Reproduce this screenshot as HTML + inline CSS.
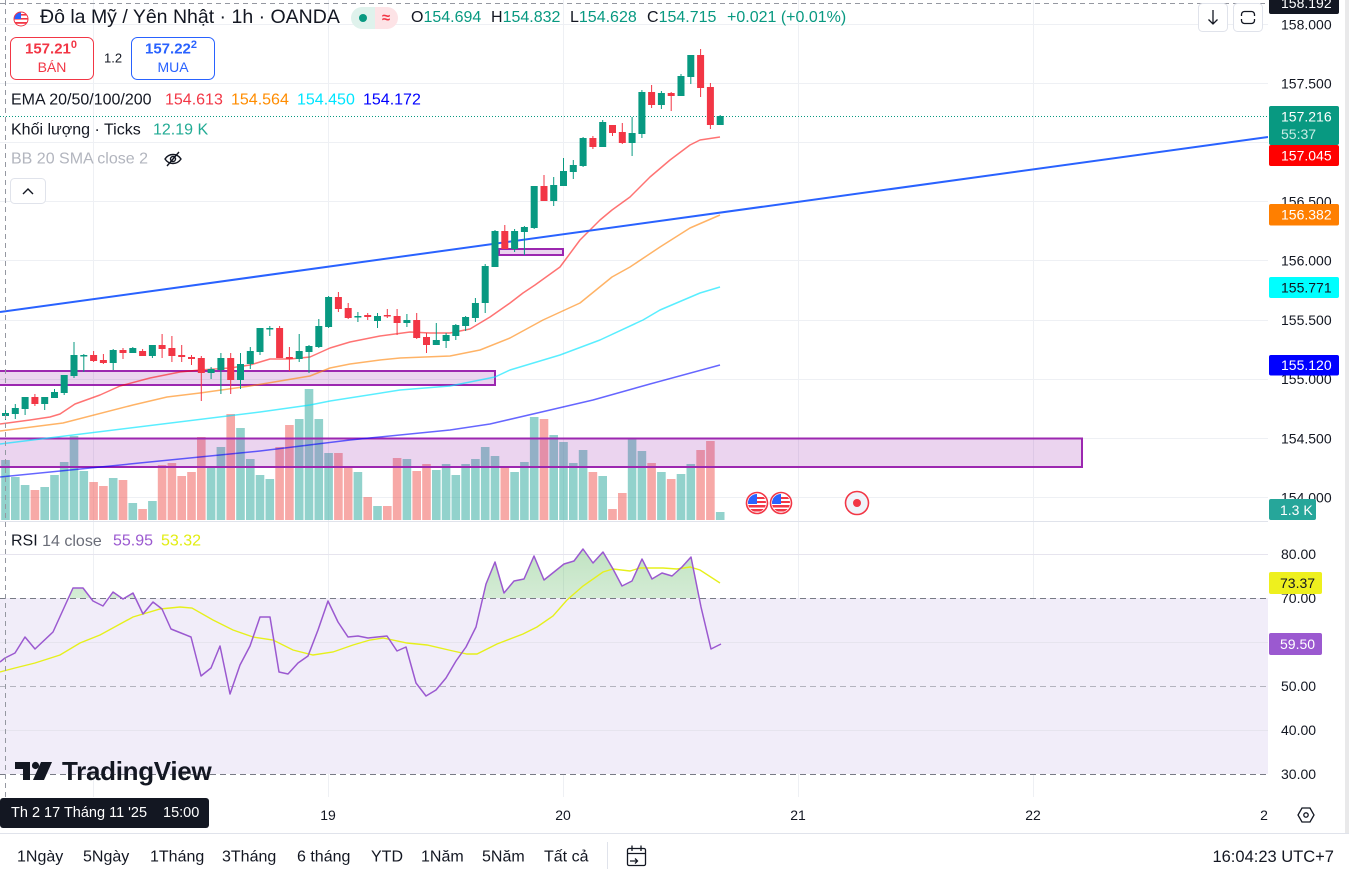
<!DOCTYPE html>
<html><head><meta charset="utf-8"><style>
html,body{margin:0;padding:0;background:#fff;}
svg{display:block;}
text{font-family:"Liberation Sans","DejaVu Sans",sans-serif;}
</style></head><body>
<svg width="1349" height="869" viewBox="0 0 1349 869" xmlns="http://www.w3.org/2000/svg">
<defs>
<linearGradient id="gf" x1="0" y1="0" x2="0" y2="1"><stop offset="0" stop-color="#4caf50" stop-opacity="0.35"/><stop offset="1" stop-color="#4caf50" stop-opacity="0.02"/></linearGradient>
<clipPath id="above70"><rect x="0" y="530" width="1268" height="68"/></clipPath>
<clipPath id="f1"><circle cx="757" cy="503" r="9"/></clipPath>
<clipPath id="f2"><circle cx="781" cy="503" r="9"/></clipPath>
<clipPath id="f0"><circle cx="21" cy="19" r="7"/></clipPath>
</defs>
<rect width="1349" height="869" fill="#fff"/>
<rect x="1345" y="0" width="4" height="833" fill="#e9e9ea"/>

<g stroke="#eef0f4" stroke-width="1">
<path d="M93.5 0V797M328.5 0V797M563.5 0V797M798.5 0V797M1033.5 0V797"/>
<path d="M0 24.5H1268M0 83.5H1268M0 142.5H1268M0 201.5H1268M0 260.5H1268M0 320.5H1268M0 379.5H1268M0 438.5H1268M0 497.5H1268"/>
</g>

<path fill="rgba(38,166,154,0.5)" d="M1.2 460h8.6V520h-8.6zM11 477h8.6V520h-8.6zM20.8 485h8.6V520h-8.6zM40.4 487h8.6V520h-8.6zM50.2 475h8.6V520h-8.6zM59.9 462h8.6V520h-8.6zM69.7 436h8.6V520h-8.6zM79.5 471h8.6V520h-8.6zM108.9 478h8.6V520h-8.6zM128.5 503h8.6V520h-8.6zM148.1 501h8.6V520h-8.6zM206.8 468h8.6V520h-8.6zM216.6 447h8.6V520h-8.6zM236.2 428h8.6V520h-8.6zM246 459h8.6V520h-8.6zM255.7 475h8.6V520h-8.6zM265.5 479h8.6V520h-8.6zM294.9 419h8.6V520h-8.6zM304.7 389h8.6V520h-8.6zM314.5 419h8.6V520h-8.6zM324.3 453h8.6V520h-8.6zM353.6 472h8.6V520h-8.6zM373.2 506h8.6V520h-8.6zM402.6 459h8.6V520h-8.6zM432 470h8.6V520h-8.6zM441.8 464h8.6V520h-8.6zM451.5 475h8.6V520h-8.6zM461.3 464h8.6V520h-8.6zM471.1 459h8.6V520h-8.6zM480.9 447h8.6V520h-8.6zM490.7 456h8.6V520h-8.6zM510.3 472h8.6V520h-8.6zM520.1 462h8.6V520h-8.6zM529.9 417h8.6V520h-8.6zM549.4 435h8.6V520h-8.6zM559.2 442h8.6V520h-8.6zM569 463h8.6V520h-8.6zM578.8 450h8.6V520h-8.6zM598.4 476h8.6V520h-8.6zM627.8 439h8.6V520h-8.6zM637.6 451h8.6V520h-8.6zM657.1 472h8.6V520h-8.6zM676.7 474h8.6V520h-8.6zM686.5 464h8.6V520h-8.6zM715.9 512h8.6V520h-8.6z"/>
<path fill="rgba(239,83,80,0.5)" d="M30.6 490h8.6V520h-8.6zM89.3 482h8.6V520h-8.6zM99.1 486h8.6V520h-8.6zM118.7 480h8.6V520h-8.6zM138.3 509h8.6V520h-8.6zM157.8 465h8.6V520h-8.6zM167.6 463h8.6V520h-8.6zM177.4 476h8.6V520h-8.6zM187.2 472h8.6V520h-8.6zM197 437h8.6V520h-8.6zM226.4 414h8.6V520h-8.6zM275.3 447h8.6V520h-8.6zM285.1 425h8.6V520h-8.6zM334.1 453h8.6V520h-8.6zM343.9 467h8.6V520h-8.6zM363.4 497h8.6V520h-8.6zM383 506h8.6V520h-8.6zM392.8 458h8.6V520h-8.6zM412.4 471h8.6V520h-8.6zM422.2 464h8.6V520h-8.6zM500.5 468h8.6V520h-8.6zM539.7 419h8.6V520h-8.6zM588.6 472h8.6V520h-8.6zM608.2 509h8.6V520h-8.6zM618 493h8.6V520h-8.6zM647.3 463h8.6V520h-8.6zM666.9 479h8.6V520h-8.6zM696.3 450h8.6V520h-8.6zM706.1 441h8.6V520h-8.6z"/>

<g fill="rgba(156,39,176,0.2)" stroke="#9c27b0" stroke-width="2">
<rect x="-3" y="371" width="498" height="14"/>
<rect x="-3" y="438.5" width="1085" height="28.5"/>
<rect x="499" y="249" width="64" height="6"/>
</g>

<g fill="none" stroke-width="1.5" stroke-linejoin="round">
<polyline stroke="#0000ff" stroke-opacity="0.6" points="0,477 260,451 350,440 450,430 490,424 593,400 650,384 720,365"/>
<polyline stroke="#00e5ff" stroke-opacity="0.65" points="0,444 260,412 310,405 330,401 400,390 450,386 495,377 510,370 560,355 600,340 643,320 660,310 700,293 720,287"/>
<polyline stroke="#ff8000" stroke-opacity="0.6" points="0,431 63,423 133,405 167,397 200,393 250,386 280,381 310,376 330,368 350,364 380,360 400,358 450,356 480,350 510,338 543,320 580,303 612,277 630,267 660,247 690,228 720,215"/>
<polyline stroke="#ff0000" stroke-opacity="0.55" points="0,424 30,420 50,417 60,414 75,404 100,395 120,386 150,378 180,372 200,370 230,368 250,365 270,359 290,359 310,357 330,348 350,342 380,336 410,332 430,333 450,333 470,329 490,317 510,303 523,293 535,285 560,267 580,240 600,220 612,210 630,197 650,177 670,160 690,145 700,140 720,137"/>
</g>

<line x1="0" y1="312" x2="1268" y2="137" stroke="#2962ff" stroke-width="2"/>
<line x1="0" y1="116.5" x2="1268" y2="116.5" stroke="#089981" stroke-width="1" stroke-dasharray="1,2"/>

<path stroke="#089981" stroke-width="1" fill="none" d="M5.5 408V420M15.3 404V419M25.1 397V415M44.7 397V410M54.5 389V398M64.2 375V395M74 342V378M83.8 354V372M113.2 349V370M132.8 347V353M152.4 345V358M211.1 367V379M220.9 353V394M240.5 353V389M250.3 347V369M260 328V355M269.8 326V336M299.2 334V362M309 345V373M318.8 319V348M328.6 296V328M357.9 312V322M377.5 313V328M406.9 314V327M436.3 323V345M446.1 333V348M455.8 324V340M465.6 316V331M475.4 298V322M485.2 264V313M495 230V267M514.6 229V252M524.4 226V255M534.2 186V229M553.7 177V206M563.5 158V186M573.3 160V179M583.1 137V167M602.7 120V147M632.1 117V156M641.9 90V138M661.4 91V109M681 74V96M690.8 55V84M720.2 115V125"/>
<path stroke="#f23645" stroke-width="1" fill="none" d="M34.9 394V406M93.6 351V362M103.4 354V364M123 348V359M142.6 349V356M162.1 334V358M171.9 336V362M181.7 345V362M191.5 355V365M201.3 356V401M230.7 353V394M279.6 326V358M289.4 347V371M338.4 292V312M348.2 303V319M367.7 313V320M387.3 309V318M397.1 309V335M416.7 313V339M426.5 333V353M504.8 225V249M544 175V201M592.9 136V149M612.5 125V136M622.3 123V144M651.6 85V108M671.2 92V111M700.6 49V97M710.4 83V129"/>
<path fill="#089981" d="M2 413h7v3h-7zM11.8 408h7v6h-7zM21.6 397h7v12h-7zM41.2 397h7v7h-7zM51 392h7v6h-7zM60.7 375h7v18h-7zM70.5 355h7v21h-7zM80.3 355h7v1.5h-7zM109.7 350h7v13h-7zM129.3 348h7v5h-7zM148.9 345h7v11h-7zM207.6 369h7v4h-7zM217.4 358h7v12h-7zM237 364h7v16h-7zM246.8 351h7v13h-7zM256.5 328h7v24h-7zM266.3 328h7v1.5h-7zM295.7 351h7v8h-7zM305.5 346h7v6h-7zM315.3 326h7v21h-7zM325.1 297h7v30h-7zM354.4 316h7v1.5h-7zM374 316h7v5h-7zM403.4 320h7v3h-7zM432.8 340h7v5h-7zM442.6 335h7v6h-7zM452.3 325h7v11h-7zM462.1 317h7v9h-7zM471.9 303h7v15h-7zM481.7 266h7v37h-7zM491.5 231h7v36h-7zM511.1 231h7v18h-7zM520.9 227h7v5h-7zM530.7 186h7v42h-7zM550.2 185h7v16h-7zM560 171h7v15h-7zM569.8 165h7v7h-7zM579.6 138h7v28h-7zM599.2 122h7v25h-7zM628.6 133h7v10h-7zM638.4 92h7v42h-7zM657.9 93h7v12h-7zM677.5 76h7v20h-7zM687.3 55h7v22h-7zM716.7 116h7v9h-7z"/>
<path fill="#f23645" d="M31.4 397h7v7h-7zM90.1 355h7v6h-7zM99.9 360h7v3h-7zM119.5 350h7v3h-7zM139.1 351h7v5h-7zM158.6 345h7v4h-7zM168.4 348h7v8h-7zM178.2 355h7v2h-7zM188 357h7v2h-7zM197.8 358h7v15h-7zM227.2 358h7v22h-7zM276.1 328h7v30h-7zM285.9 357h7v2h-7zM334.9 297h7v12h-7zM344.7 308h7v10h-7zM364.2 315h7v2h-7zM383.8 315h7v1.5h-7zM393.6 316h7v7h-7zM413.2 320h7v18h-7zM423 337h7v8h-7zM501.3 231h7v18h-7zM540.5 186h7v15h-7zM589.4 138h7v9h-7zM609 125h7v8h-7zM618.8 132h7v11h-7zM648.1 92h7v13h-7zM667.7 93h7v3h-7zM697.1 55h7v33h-7zM706.9 87h7v38h-7z"/>

<g>
<circle cx="757" cy="503" r="10.5" fill="#fff" stroke="#f23645" stroke-width="1.6"/>
<g clip-path="url(#f1)"><rect x="748" y="494" width="18" height="18" fill="#fff"/><rect x="748" y="497" width="18" height="2" fill="#f23645"/><rect x="748" y="501" width="18" height="2" fill="#f23645"/><rect x="748" y="505" width="18" height="2.5" fill="#f23645"/><rect x="748" y="509" width="18" height="2.5" fill="#f23645"/><rect x="748" y="494" width="9" height="10" fill="#2962ff"/></g>
<circle cx="781" cy="503" r="10.5" fill="#fff" stroke="#f23645" stroke-width="1.6"/>
<g clip-path="url(#f2)"><rect x="772" y="494" width="18" height="18" fill="#fff"/><rect x="772" y="497" width="18" height="2" fill="#f23645"/><rect x="772" y="501" width="18" height="2" fill="#f23645"/><rect x="772" y="505" width="18" height="2.5" fill="#f23645"/><rect x="772" y="509" width="18" height="2.5" fill="#f23645"/><rect x="772" y="494" width="9" height="10" fill="#2962ff"/></g>
<circle cx="857" cy="503" r="11.5" fill="#f0f3fa" stroke="#f23645" stroke-width="1.6"/>
<circle cx="857" cy="503" r="4" fill="#f23645"/>
</g>

<line x1="0" y1="521.5" x2="1345" y2="521.5" stroke="#e0e3eb"/>

<rect x="0" y="598" width="1268" height="176" fill="#f1edf9"/>
<g stroke="#e6e4ee" stroke-width="1"><path d="M0 554.5H1268M0 642.5H1268M0 730.5H1268"/></g>
<line x1="0" y1="598.5" x2="1268" y2="598.5" stroke="#787b86" stroke-dasharray="6,4"/>
<line x1="0" y1="774.5" x2="1268" y2="774.5" stroke="#787b86" stroke-dasharray="6,4"/>
<line x1="0" y1="686.5" x2="1268" y2="686.5" stroke="#787b86" stroke-opacity="0.5" stroke-dasharray="6,4"/>
<path clip-path="url(#above70)" fill="url(#gf)" d="M0,598 L0,662 5,658 15,653 25,637 35,649 53,632 63,610 73,588 83,588 93,601 103,606 113,592 123,599 133,593 143,614 153,602 162,609 171,629 181,633 191,637 201,676 211,668 220,646 230,694 240,665 250,646 260,617 270,617 279,672 288,674 298,663 308,656 318,630 328,601 338,622 348,637 358,636 368,638 387,636 397,651 406,647 416,683 426,696 436,690 446,678 456,661 466,647 476,627 486,584 495,562 504,593 514,581 524,579 534,556 544,580 554,572 564,564 574,561 583,549 593,563 603,552 613,569 622,586 632,581 642,559 652,579 662,573 672,576 682,567 691,557 701,607 711,649 721,644 L721,598 Z"/>
<polyline fill="none" stroke="#e6f01c" stroke-width="1.4" points="0,672 15,668 35,663 60,655 80,643 100,635 133,617 160,609 180,607 192,608 213,620 233,630 253,637 273,640 293,650 313,655 333,652 353,645 370,640 383,638 407,643 427,645 453,651 467,654 477,654 497,644 523,634 537,627 553,616 567,600 583,586 603,572 613,569 630,571 640,568 663,568 677,569 690,567 700,570 720,583"/>
<polyline fill="none" stroke="#9b59d0" stroke-width="1.5" stroke-linejoin="round" points="0,662 5,658 15,653 25,637 35,649 53,632 63,610 73,588 83,588 93,601 103,606 113,592 123,599 133,593 143,614 153,602 162,609 171,629 181,633 191,637 201,676 211,668 220,646 230,694 240,665 250,646 260,617 270,617 279,672 288,674 298,663 308,656 318,630 328,601 338,622 348,637 358,636 368,638 387,636 397,651 406,647 416,683 426,696 436,690 446,678 456,661 466,647 476,627 486,584 495,562 504,593 514,581 524,579 534,556 544,580 554,572 564,564 574,561 583,549 593,563 603,552 613,569 622,586 632,581 642,559 652,579 662,573 672,576 682,567 691,557 701,607 711,649 721,644"/>

<line x1="5.5" y1="0" x2="5.5" y2="797" stroke="#9598a1" stroke-dasharray="5,4"/>
<line x1="0" y1="3.5" x2="1268" y2="3.5" stroke="#9598a1" stroke-dasharray="5,4"/>

<g fill="#131722">
<path d="M15 762h15v18h-7v-11h-8z"/>
<circle cx="35.5" cy="765.5" r="3.6"/>
<path d="M41 762h11l-8 18h-11z"/>
</g>
<text x="62" y="780" font-size="26" font-weight="bold" fill="#131722" letter-spacing="-0.3">TradingView</text>

<g clip-path="url(#f0)"><rect x="13" y="11" width="16" height="16" fill="#fff"/><rect x="13" y="14" width="16" height="1.6" fill="#f23645"/><rect x="13" y="18" width="16" height="1.6" fill="#f23645"/><rect x="13" y="22" width="16" height="1.8" fill="#f23645"/><rect x="13" y="11" width="8" height="8" fill="#2962ff"/></g>
<circle cx="21" cy="19" r="7" fill="none" stroke="#f23645" stroke-width="1"/>
<text x="40" y="17" dominant-baseline="central" font-size="19.5" fill="#131722">Đô la Mỹ / Yên Nhật · 1h · OANDA</text>
<rect x="351" y="7" width="24" height="22" rx="11" fill="#dff2ec"/>
<rect x="363" y="7" width="12" height="22" fill="#dff2ec"/>
<rect x="375" y="7" width="23" height="22" rx="11" fill="#fde3e6"/>
<rect x="375" y="7" width="10" height="22" fill="#fde3e6"/>
<circle cx="363" cy="18" r="4" fill="#089981"/>
<text x="386" y="18" dominant-baseline="central" text-anchor="middle" font-size="15" fill="#f23645" font-weight="bold">≈</text>
<text y="17" dominant-baseline="central" font-size="16"><tspan x="411" fill="#131722">O</tspan><tspan fill="#089981">154.694</tspan><tspan x="491" fill="#131722">H</tspan><tspan fill="#089981">154.832</tspan><tspan x="570" fill="#131722">L</tspan><tspan fill="#089981">154.628</tspan><tspan x="647" fill="#131722">C</tspan><tspan fill="#089981">154.715</tspan><tspan x="727" fill="#089981">+0.021 (+0.01%)</tspan></text>

<rect x="10.5" y="37.5" width="83" height="42" rx="6" fill="#fff" stroke="#f23645"/>
<text x="25" y="49" dominant-baseline="central" font-size="15" font-weight="bold" fill="#f23645">157.21<tspan font-size="11" dy="-4">0</tspan></text>
<text x="52" y="67" dominant-baseline="central" text-anchor="middle" font-size="14" fill="#f23645">BÁN</text>
<text x="104" y="58" dominant-baseline="central" font-size="13" fill="#131722">1.2</text>
<rect x="131.5" y="37.5" width="83" height="42" rx="6" fill="#fff" stroke="#2962ff"/>
<text x="145" y="49" dominant-baseline="central" font-size="15" font-weight="bold" fill="#2962ff">157.22<tspan font-size="11" dy="-4">2</tspan></text>
<text x="173" y="67" dominant-baseline="central" text-anchor="middle" font-size="14" fill="#2962ff">MUA</text>

<text x="11" y="100" dominant-baseline="central" font-size="16" fill="#131722">EMA 20/50/100/200</text>
<text x="165" y="100" dominant-baseline="central" font-size="16" fill="#f23645">154.613</text>
<text x="231" y="100" dominant-baseline="central" font-size="16" fill="#ff8c00">154.564</text>
<text x="297" y="100" dominant-baseline="central" font-size="16" fill="#00e5ff">154.450</text>
<text x="363" y="100" dominant-baseline="central" font-size="16" fill="#0000ff">154.172</text>
<text x="11" y="130" dominant-baseline="central" font-size="16" fill="#131722">Khối lượng · Ticks</text>
<text x="153" y="130" dominant-baseline="central" font-size="16" fill="#22ab94">12.19 K</text>
<text x="11" y="159" dominant-baseline="central" font-size="16" fill="#b2b5be">BB 20 SMA close 2</text>
<g fill="none" stroke="#131722" stroke-width="1.4">
<path d="M165 159c4-6 12-6 16 0c-4 6-12 6-16 0z"/>
<circle cx="173" cy="159" r="2.5"/>
<path d="M167 166L179 152"/>
</g>
<rect x="10.5" y="178.5" width="35" height="25" rx="4" fill="#fff" stroke="#e0e3eb"/>
<path d="M23 194L28 189L33 194" fill="none" stroke="#131722" stroke-width="1.4"/>

<text x="11" y="541" dominant-baseline="central" font-size="16" fill="#131722">RSI <tspan fill="#6a6d78">14 close</tspan></text>
<text x="113" y="541" dominant-baseline="central" font-size="16" fill="#9b59d0">55.95</text>
<text x="161" y="541" dominant-baseline="central" font-size="16" fill="#e2ed12">53.32</text>

<rect x="1198.5" y="3.5" width="29" height="28" rx="4" fill="#fff" stroke="#e0e3eb"/>
<path d="M1213 10V24M1208.5 19.5L1213 24L1217.5 19.5" fill="none" stroke="#131722" stroke-width="1.3"/>
<rect x="1233.5" y="3.5" width="29" height="28" rx="4" fill="#fff" stroke="#e0e3eb"/>
<rect x="1241.5" y="11.5" width="13" height="12" rx="3" fill="none" stroke="#131722" stroke-width="1.3"/>
<rect x="1240" y="16" width="16" height="3" fill="#fff"/>

<rect x="1268" y="0" width="77" height="833" fill="#fff"/>
<g font-size="14" fill="#131722">
<text x="1281" y="24.5" dominant-baseline="central">158.000</text>
<text x="1281" y="83.5" dominant-baseline="central">157.500</text>
<text x="1281" y="201.5" dominant-baseline="central">156.500</text>
<text x="1281" y="260.5" dominant-baseline="central">156.000</text>
<text x="1281" y="320" dominant-baseline="central">155.500</text>
<text x="1281" y="379" dominant-baseline="central">155.000</text>
<text x="1281" y="438.5" dominant-baseline="central">154.500</text>
<text x="1281" y="497.5" dominant-baseline="central">154.000</text>
<text x="1281" y="554" dominant-baseline="central">80.00</text>
<text x="1281" y="598" dominant-baseline="central">70.00</text>
<text x="1281" y="686" dominant-baseline="central">50.00</text>
<text x="1281" y="730" dominant-baseline="central">40.00</text>
<text x="1281" y="774" dominant-baseline="central">30.00</text>
</g>
<rect x="1269" y="-6" width="70" height="20" rx="2" fill="#131722"/>
<text x="1281" y="3" dominant-baseline="central" font-size="14" fill="#fff">158.192</text>
<rect x="1269" y="106" width="70" height="39" rx="2" fill="#089981"/>
<text x="1281" y="116.5" dominant-baseline="central" font-size="14" fill="#fff">157.216</text>
<text x="1281" y="134" dominant-baseline="central" font-size="14" fill="#c9ece5">55:37</text>
<rect x="1269" y="145" width="70" height="21" rx="2" fill="#ff0000"/>
<text x="1281" y="155.5" dominant-baseline="central" font-size="14" fill="#fff">157.045</text>
<rect x="1269" y="204" width="70" height="21.5" rx="2" fill="#ff7f00"/>
<text x="1281" y="214.5" dominant-baseline="central" font-size="14" fill="#fff">156.382</text>
<rect x="1269" y="277" width="70" height="21" rx="2" fill="#00ffff"/>
<text x="1281" y="287.5" dominant-baseline="central" font-size="14" fill="#131722">155.771</text>
<rect x="1269" y="355" width="70" height="20.5" rx="2" fill="#0000ff"/>
<text x="1281" y="365" dominant-baseline="central" font-size="14" fill="#fff">155.120</text>
<rect x="1269" y="499" width="47" height="21" rx="2" fill="#26a69a"/>
<text x="1280" y="510" dominant-baseline="central" font-size="14" fill="#fff">1.3 K</text>
<rect x="1269" y="572" width="53" height="22" rx="2" fill="#eef01e"/>
<text x="1280" y="583" dominant-baseline="central" font-size="14" fill="#131722">73.37</text>
<rect x="1269" y="633" width="53" height="22" rx="2" fill="#9b59d0"/>
<text x="1280" y="644" dominant-baseline="central" font-size="14" fill="#fff">59.50</text>

<rect x="0" y="797" width="1345" height="36" fill="#fff"/>
<g font-size="14" fill="#131722" text-anchor="middle">
<text x="328" y="815" dominant-baseline="central">19</text>
<text x="563" y="815" dominant-baseline="central">20</text>
<text x="798" y="815" dominant-baseline="central">21</text>
<text x="1033" y="815" dominant-baseline="central">22</text>
<text x="1264" y="815" dominant-baseline="central">2</text>
</g>
<rect x="0" y="798" width="209" height="30" rx="3" fill="#131722"/>
<text x="11" y="813" dominant-baseline="central" font-size="14.5" fill="#fff">Th 2 17 Tháng 11 '25</text>
<text x="163" y="813" dominant-baseline="central" font-size="14.5" fill="#fff">15:00</text>
<polygon points="1302,808 1310,808 1314,815 1310,822 1302,822 1298,815" fill="none" stroke="#131722" stroke-width="1.3"/>
<circle cx="1306" cy="815" r="2.2" fill="none" stroke="#131722" stroke-width="1.3"/>

<line x1="0" y1="833.5" x2="1349" y2="833.5" stroke="#e0e3eb"/>

<g font-size="16" fill="#131722">
<text x="17" y="857" dominant-baseline="central">1Ngày</text>
<text x="83" y="857" dominant-baseline="central">5Ngày</text>
<text x="150" y="857" dominant-baseline="central">1Tháng</text>
<text x="222" y="857" dominant-baseline="central">3Tháng</text>
<text x="297" y="857" dominant-baseline="central">6 tháng</text>
<text x="371" y="857" dominant-baseline="central">YTD</text>
<text x="421" y="857" dominant-baseline="central">1Năm</text>
<text x="482" y="857" dominant-baseline="central">5Năm</text>
<text x="544" y="857" dominant-baseline="central">Tất cả</text>
<text x="1334" y="857" dominant-baseline="central" text-anchor="end" font-size="16.5">16:04:23 UTC+7</text>
</g>
<line x1="607.5" y1="842" x2="607.5" y2="869" stroke="#e0e3eb"/>
<g fill="none" stroke="#131722" stroke-width="1.3">
<rect x="627.5" y="848.5" width="18" height="17" rx="1.5"/>
<path d="M627.5 853.5H645.5M632 845.5V851M641 845.5V851M630 861H637M635 858.5L637.5 861L635 863.5"/>
</g>
</svg>
</body></html>
